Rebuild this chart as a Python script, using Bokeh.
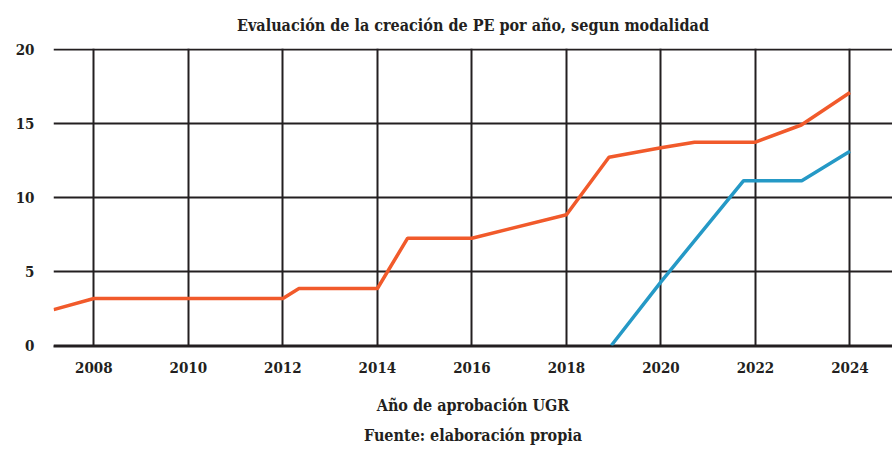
from bokeh.plotting import figure
from bokeh.models import Range1d, Title, FixedTicker
from bokeh.embed import file_html
from bokeh.resources import INLINE

# data
years_a = [2007.15, 2008, 2012, 2012.34, 2014, 2014.64, 2016, 2018, 2018.9, 2020, 2020.71, 2022, 2022.97, 2024]
values_a = [2.42, 3.17, 3.17, 3.85, 3.85, 7.25, 7.25, 8.83, 12.72, 13.36, 13.74, 13.74, 14.9, 17.1]
years_b = [2018.95, 2020, 2021.75, 2022.98, 2024]
values_b = [0.0, 4.3, 11.14, 11.14, 13.13]
x_ticks = [2008, 2010, 2012, 2014, 2016, 2018, 2020, 2022, 2024]
y_ticks = [0, 5, 10, 15, 20]

FONT = "DejaVu Serif Condensed"
GRID = "#231f20"
TXT = "#231f20"

p = figure(width=892, height=450, output_backend="svg", toolbar_location=None,
           x_range=Range1d(2007.146, 2024.90), y_range=Range1d(-0.07, 20.07),
           min_border_left=53, min_border_right=0, min_border_top=8, min_border_bottom=3)

p.title.text = "Evaluación de la creación de PE por año, segun modalidad"
p.title.align = "center"
p.title.text_font = FONT
p.title.text_font_style = "bold"
p.title.text_font_size = "16px"
p.title.text_color = TXT
p.title.standoff = 27

p.outline_line_color = None
p.background_fill_color = "white"
p.border_fill_color = "white"

for g in (p.xgrid, p.ygrid):
    g.grid_line_color = GRID
    g.grid_line_width = 2
p.xgrid.ticker = FixedTicker(ticks=x_ticks)
p.ygrid.ticker = FixedTicker(ticks=y_ticks)

p.xaxis.ticker = FixedTicker(ticks=x_ticks)
p.yaxis.ticker = FixedTicker(ticks=y_ticks)
for ax in (p.xaxis, p.yaxis):
    ax.major_tick_line_color = None
    ax.minor_tick_line_color = None
    ax.major_label_text_font = FONT
    ax.major_label_text_font_style = "bold"
    ax.major_label_text_font_size = "15px"
    ax.major_label_text_color = TXT
p.yaxis.axis_line_color = None
p.xaxis.axis_line_color = GRID
p.xaxis.axis_line_width = 2
p.yaxis.major_label_standoff = 13
p.xaxis.major_label_standoff = 9

p.xaxis.axis_label = "Año de aprobación UGR"
p.xaxis.axis_label_text_font = FONT
p.xaxis.axis_label_text_font_style = "bold"
p.xaxis.axis_label_text_font_size = "16px"
p.xaxis.axis_label_text_color = TXT
p.xaxis.axis_label_standoff = 20

src = Title(text="Fuente: elaboración propia", align="center", text_font=FONT,
            text_font_style="bold", text_font_size="16px", text_color=TXT, standoff=12)
p.add_layout(src, "below")

p.line(years_a, values_a, line_color="#f15a2b", line_width=3.5)
p.line(years_b, values_b, line_color="#2599c6", line_width=3.5)

open("out.html", "w").write(file_html(p, INLINE))
